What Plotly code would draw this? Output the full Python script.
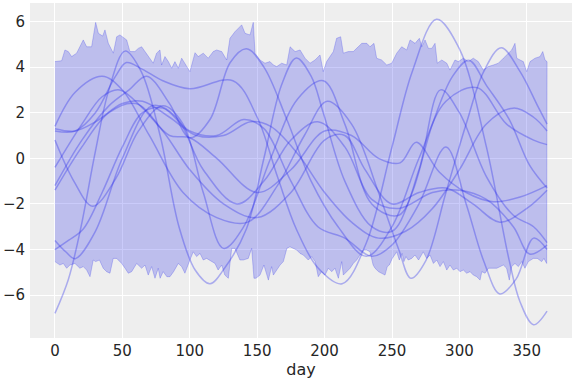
import plotly.graph_objects as go

# ---- band (upper / lower envelope) ----
upper_day = [0, 5, 7.4, 9.9, 12.4, 16.1, 21, 23.5, 27.2, 30.2, 32.2, 35.4, 37.1, 39.6, 43.3, 45.8, 48.2, 53.2,
             55.6, 59.3, 61.8, 64.3, 66.8, 69.2, 72.9, 75.4, 77.9, 79.1, 81.6, 84.1, 86.6, 89, 91.5, 94, 96.4,
             100.1, 103.9, 106.3, 110, 113.7, 117.4, 119.9, 123.7, 127.4, 129.8, 133.5, 138.5, 141, 144.7,
             147.1, 148.4, 152.1, 155.8, 159.5, 162, 164.5, 168.2, 171.9, 174.4, 178.1, 181.8, 185.5, 189.2,
             192.9, 196.6, 199, 201.5, 204, 206.5, 208.9, 211.9, 213.9, 217.6, 221.3, 225, 227.6, 231.3, 233.7,
             236.6, 238.6, 242.3, 246.1, 249.8, 253.5, 257.2, 260.9, 263.4, 267.1, 270.3, 272.1, 274.5, 277,
             279.5, 281.9, 283.6, 286.9, 290.6, 293, 296.7, 299.2, 302.9, 306.6, 310.3, 314, 317.7, 321.4,
             325.2, 328.9, 332.6, 336.3, 338.8, 341.2, 342.5, 345, 347.4, 349.9, 352.4, 356.1, 359.8, 361.8,
             363.5, 365]
upper_val = [4.24, 4.28, 4.75, 4.68, 4.46, 4.61, 5.19, 4.89, 4.89, 5.96, 5.48, 5.36, 5.63, 5.04, 4.61, 5.33, 5.41,
             5.19, 4.68, 4.68, 4.82, 4.89, 4.68, 4.46, 4.17, 4.61, 4.75, 4.09, 4.46, 4.24, 3.95, 4.24, 3.95, 4.39,
             4.17, 3.8, 4.63, 4.46, 4.61, 4.39, 4.68, 4.75, 4.68, 4.31, 5.26, 5.55, 5.85, 5.48, 5.41, 5.96, 4.61,
             4.31, 4.17, 4.24, 4.09, 4.02, 4.17, 4.09, 4.89, 4.68, 4.75, 4.39, 4.17, 4.31, 4.53, 3.8, 4.24, 4.46,
             4.68, 5.26, 5.33, 4.61, 4.68, 4.68, 4.89, 5.04, 5.04, 4.89, 5.04, 4.39, 4.31, 4.09, 4.17, 4.61, 4.89,
             4.75, 5.19, 5.04, 5.26, 4.89, 5.19, 4.82, 4.82, 5.04, 4.17, 4.31, 4.17, 3.87, 4.31, 4.24, 4.39, 4.24,
             4.39, 4.24, 3.87, 4.02, 4.09, 4.17, 4.39, 4.61, 4.75, 5.04, 4.39, 4.31, 4.24, 3.8, 4.24, 4.39, 4.46,
             4.68, 4.31, 4.24]

lower_day = [0, 3.7, 6.2, 8.7, 11.1, 14.8, 18.5, 21, 23.5, 26, 28.4, 30.2, 33, 35.8, 38.3, 40.8, 43.2, 45.8, 49.5,
             52, 54.4, 56.9, 60.6, 64.3, 66.8, 69.2, 71.7, 74.2, 76.6, 78, 80.3, 83, 85.3, 88, 91.5, 94, 96.4,
             100.1, 102.6, 105.1, 107.6, 110, 112.5, 115, 118.7, 121, 123.7, 126, 128.6, 131.1, 133.5, 137.2,
             139.7, 143.4, 145.9, 147.6, 149.1, 152.1, 155, 158.3, 160.7, 162, 164.5, 167, 169.4, 172, 174.3,
             179.3, 181.8, 184.2, 187.9, 190.4, 193, 195.3, 197.8, 200.3, 202.8, 205.3, 207.7, 210.2, 212.7,
             213.9, 216.4, 218.9, 221.3, 223.8, 226.3, 228.7, 231.2, 233.7, 236, 237.4, 240, 242.3, 244.8, 246.5,
             248, 250.2, 253.5, 255.4, 257.5, 258.8, 260.4, 262, 264.6, 267, 269.7, 273.2, 275.7, 278.2, 280.7,
             283.2, 285.6, 288.1, 290.6, 293, 295.5, 298, 300.4, 302.9, 305.4, 307.9, 310.3, 312.8, 315.3, 316.6,
             319, 321.5, 324, 327.7, 330.1, 332.6, 335, 337, 338.7, 341.2, 343.7, 346.2, 348.6, 351.1, 354.8,
             357.8, 361, 362.7, 364.7, 365]
lower_val = [-4.46, -4.53, -4.68, -4.61, -4.82, -4.68, -4.61, -4.82, -4.75, -4.9, -5.19, -4.46, -4.53, -4.46,
             -4.82, -4.97, -5.04, -4.39, -4.39, -4.61, -4.82, -5.04, -4.97, -4.61, -4.82, -4.68, -5.12, -4.75,
             -5.26, -4.82, -5.26, -4.97, -5.19, -5.19, -4.97, -4.61, -4.75, -5.04, -4.46, -4.1, -4.31, -4.17,
             -4.46, -4.39, -4.46, -4.61, -4.9, -4.68, -5.12, -5.26, -3.95, -3.95, -4.46, -4.46, -4.39, -3.95,
             -5.26, -5.26, -5.12, -4.68, -5.34, -4.75, -5.12, -4.9, -4.68, -4.53, -3.95, -3.88, -4.02, -4.17,
             -4.24, -4.46, -4.31, -4.53, -5.19, -4.97, -5.12, -4.82, -4.97, -4.82, -5.26, -4.53, -5.12, -4.97,
             -4.82, -4.61, -4.46, -4.24, -4.02, -4.02, -4.1, -4.68, -4.82, -4.97, -5.04, -5.12, -4.75, -4.68,
             -4.39, -4.1, -4.46, -4.17, -4.53, -4.31, -4.46, -4.39, -4.24, -4.46, -4.1, -4.39, -4.24, -4.61, -4.46,
             -4.75, -4.53, -4.9, -4.68, -4.9, -4.82, -4.97, -4.9, -5.04, -4.97, -5.12, -5.19, -5.34, -4.97, -5.04,
             -4.82, -4.82, -4.82, -4.75, -4.68, -4.82, -5.34, -4.75, -4.61, -4.75, -4.53, -4.82, -4.53, -4.39,
             -4.39, -4.53, -4.39, -4.61, -4.53]

# ---- sample curves: knot days and values ----
curve_a_day = [0, 10, 19, 30, 40, 52, 64, 78, 92, 104, 115, 126, 142, 155, 168, 179, 190, 199, 215, 235, 250,
               265, 280, 295, 307, 320, 337, 352, 365]
curve_a_val = [-6.8, -5.3, -3.1, 0.3, 3.0, 4.7, 3.8, 1.0, -3.0, -4.9, -5.5, -4.8, -3.1, 0.0, 3.2, 4.4, 3.6, 2.0,
               -1.0, -3.0, -3.2, -1.5, 1.5, 3.6, 4.3, 3.2, 1.7, -0.3, -1.3]
curve_b_day = [0, 15, 35, 50, 70, 95, 120, 143, 165, 185, 202, 220, 240, 255, 264, 275, 290, 305, 318, 331, 345,
               358, 365]
curve_b_val = [1.4, 2.9, 3.6, 3.0, 1.0, -1.5, -2.6, -2.8, -1.2, 1.0, 2.5, 1.5, -1.5, -4.0, -5.26, -4.5, -1.5, 1.5,
               3.8, 4.85, 3.8, 2.3, 1.5]
curve_c_day = [0, 15, 30, 45, 53, 65, 80, 100, 132, 150, 165, 179, 195, 213, 231, 250, 265, 283, 300, 320, 337,
               345, 355, 365]
curve_c_val = [1.2, 1.2, 2.0, 3.6, 4.2, 3.9, 3.4, 3.05, 3.4, 1.8, -0.8, -3.1, -4.8, -5.5, -3.7, 0.5, 3.8, 6.1, 4.8,
               0.5, -4.5, -6.3, -7.3, -6.7]
curve_d_day = [0, 14, 28, 45, 62, 80, 95, 110, 125, 140, 160, 180, 199, 215, 235, 255, 270, 286, 300, 320, 340,
               355, 365]
curve_d_val = [0.8, -1.0, -2.1, -0.9, 1.2, 2.3, 1.5, -1.5, -3.95, -3.0, 0.0, 2.6, 3.4, 1.5, -2.0, -2.5, -0.5, 3.0,
               2.0, -0.8, -2.5, -3.0, -3.7]
curve_e_day = [0, 20, 35, 48, 65, 85, 100, 120, 150, 175, 200, 220, 240, 256, 268, 285, 305, 325, 345, 365]
curve_e_val = [-0.4, 1.5, 2.7, 3.0, 2.2, 1.0, 0.9, 0.0, -1.5, -0.5, 1.2, 1.0, 0.0, -0.2, 0.7, -0.6, -1.5, -1.9,
               -1.7, -1.2]
curve_f_day = [0, 20, 40, 55, 68, 85, 100, 115, 130, 142, 155, 172, 190, 210, 231, 250, 270, 290, 313, 335, 355,
               365]
curve_f_val = [-1.2, 0.8, 2.3, 3.0, 3.6, 2.4, 0.9, 1.7, 4.2, 4.8, 4.0, 1.7, -1.0, -3.0, -4.3, -3.0, 0.0, 2.5, 3.1,
               1.5, 0.8, 0.6]
curve_g_day = [0, 8, 15, 30, 50, 72, 90, 110, 135, 155, 175, 195, 215, 235, 255, 280, 300, 320, 340, 352, 365]
curve_g_val = [-3.6, -4.1, -4.4, -3.2, 0.0, 2.3, 1.8, -0.5, -2.0, -1.0, 0.8, 1.6, 0.5, -1.8, -2.2, -1.5, -1.4,
               -1.8, -3.0, -4.2, -3.8]
curve_h_day = [0, 10, 21, 35, 50, 65, 80, 100, 120, 140, 155, 175, 195, 215, 235, 250, 270, 290, 305, 318, 330,
               342, 355, 365]
curve_h_val = [-4.0, -3.6, -3.1, -1.5, 0.5, 2.0, 2.2, 1.2, 1.0, 1.7, 1.3, -1.0, -3.0, -3.5, -4.3, -3.8, -2.0, 0.5,
               -2.0, -4.5, -5.95, -5.3, -3.5, -4.0]
curve_i_day = [0, 20, 40, 60, 80, 100, 125, 150, 175, 200, 215, 230, 250, 270, 290, 310, 330, 350, 365]
curve_i_val = [-1.4, 0.5, 2.0, 2.4, 1.2, -0.5, -2.0, -2.6, -1.5, 0.8, 1.0, -0.5, -2.0, -1.5, -1.3, -2.0, -2.8,
               -2.2, -1.4]
curve_j_day = [0, 15, 30, 50, 65, 85, 105, 125, 145, 160, 180, 200, 220, 240, 260, 280, 300, 320, 340, 355, 365]
curve_j_val = [1.3, 1.2, 1.6, 2.4, 2.5, 1.8, 1.0, 1.0, 1.6, 1.4, 0.2, -1.5, -2.8, -3.5, -3.2, -2.2, -0.5, 1.5, 2.2,
               1.8, 1.2]

curves = [(curve_a_day, curve_a_val), (curve_b_day, curve_b_val), (curve_c_day, curve_c_val),
          (curve_d_day, curve_d_val), (curve_e_day, curve_e_val), (curve_f_day, curve_f_val),
          (curve_g_day, curve_g_val), (curve_h_day, curve_h_val), (curve_i_day, curve_i_val),
          (curve_j_day, curve_j_val)]

fig = go.Figure()
fig.add_trace(go.Scatter(
    x=upper_day + lower_day[::-1], y=upper_val + lower_val[::-1],
    fill="toself", fillcolor="rgba(42,46,236,0.25)",
    line=dict(color="rgba(42,46,236,0.25)", width=1), mode="lines",
    hoverinfo="skip", showlegend=False))
for days, vals in curves:
    fig.add_trace(go.Scatter(x=days, y=vals, mode="lines",
                             line=dict(color="rgba(42,46,236,0.35)", width=1.5, shape="spline", smoothing=1.0),
                             showlegend=False))

fig.update_layout(
    width=576, height=384,
    margin=dict(l=30, r=4, t=3, b=46, autoexpand=False),
    paper_bgcolor="white", plot_bgcolor="#eeeeee",
    font=dict(family="DejaVu Sans", size=15, color="#262626"),
    showlegend=False,
)
fig.update_xaxes(range=[-18.5, 383.5], tickvals=[0, 50, 100, 150, 200, 250, 300, 350],
                 showgrid=True, gridcolor="white", gridwidth=1, zeroline=False, showline=False,
                 ticks="", automargin=False, ticklabelstandoff=2,
                 title=dict(text="day", font=dict(size=16), standoff=4))
fig.update_yaxes(range=[-7.88, 6.81], tickvals=[-6, -4, -2, 0, 2, 4, 6],
                 showgrid=True, gridcolor="white", gridwidth=1, zeroline=False, showline=False,
                 ticks="", automargin=False, ticklabelstandoff=4)
fig.write_html("out.html", config={"displayModeBar": False},
               post_script="document.body.style.margin='0px';")
